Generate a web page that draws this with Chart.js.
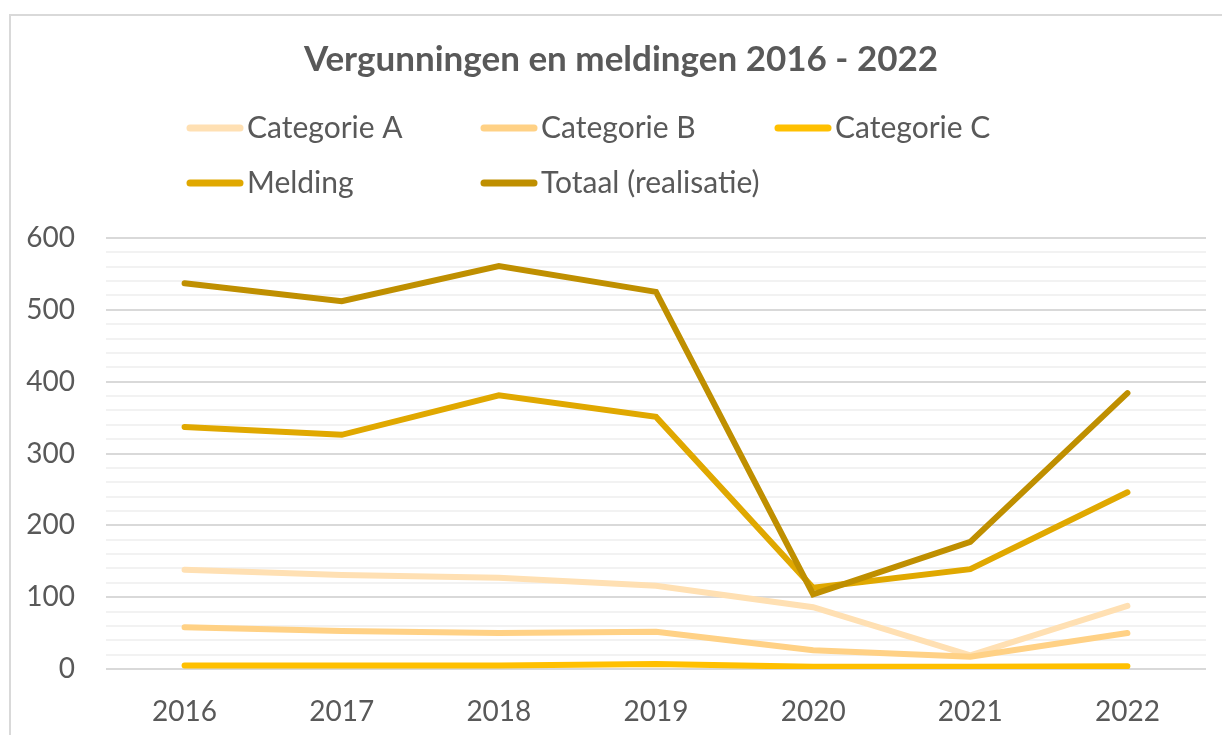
<!DOCTYPE html>
<html><head><meta charset="utf-8">
<script src="https://cdn.jsdelivr.net/npm/chart.js@4/dist/chart.umd.min.js"></script>
<style>
html,body{margin:0;padding:0;background:#fff;overflow:hidden;width:1222px;height:735px}
#frame{position:absolute;left:9px;top:14px;width:1300px;height:800px;border-left:2px solid #d9d9d9;border-top:2px solid #d9d9d9;box-sizing:border-box}
#wrap{position:absolute;left:0;top:0;width:1222px;height:735px}
</style></head><body>
<div id="frame"></div>
<div id="wrap"><canvas id="c" width="1222" height="735"></canvas></div>
<script>
const years = ['2016','2017','2018','2019','2020','2021','2022'];
const seriesNames = ['Categorie A','Categorie B','Categorie C','Melding','Totaal (realisatie)'];
const categorieA = [138,131,127,116,86,19,88];
const categorieB = [58,53,50,52,26,17,50];
const categorieC = [5,5,5,7,3,3,4];
const melding = [337,326,381,351,113,139,246];
const totaal = [537,512,561,525,104,177,384];
const yTickLabels = [0,100,200,300,400,500,600];
const seriesColors = ['#FFE0B3','#FFD185','#FFC000','#E0A800','#BF8F00'];

const FONT = 'Lato, "Open Sans", sans-serif';
const TEXT = '#595959';

const gridLegend = {
  id: 'gridLegend',
  afterLayout(chart, args, opts) {
    if (chart.titleBlock) chart.titleBlock.left += opts.titleShift;
  },
  afterDraw(chart, args, opts) {
    const ctx = chart.ctx;
    chart.data.datasets.forEach((ds, i) => {
      const col = i % opts.columns, row = Math.floor(i / opts.columns);
      const x = opts.left + col * opts.colWidth;
      const y = opts.top + row * opts.rowHeight;
      ctx.save();
      ctx.strokeStyle = ds.borderColor;
      ctx.lineWidth = opts.lineWidth;
      ctx.lineCap = 'round';
      ctx.beginPath();
      ctx.moveTo(x + 3, y);
      ctx.lineTo(x + opts.swatch - 3, y);
      ctx.stroke();
      ctx.fillStyle = opts.color;
      ctx.font = opts.font;
      ctx.textBaseline = 'middle';
      ctx.textAlign = 'left';
      ctx.fillText(ds.label, x + opts.swatch + 4, y);
      ctx.restore();
    });
  }
};

const allSeries = [categorieA, categorieB, categorieC, melding, totaal];
const datasets = allSeries.map((d, i) => ({
  label: seriesNames[i],
  data: d,
  borderColor: seriesColors[i],
  backgroundColor: seriesColors[i],
  borderWidth: 6,
  borderCapStyle: 'round',
  borderJoinStyle: 'miter',
  pointRadius: 0,
  pointHoverRadius: 0,
  tension: 0,
  fill: false,
  order: allSeries.length - i
}));

new Chart(document.getElementById('c'), {
  type: 'line',
  data: { labels: years, datasets },
  plugins: [gridLegend],
  options: {
    responsive: false,
    animation: false,
    layout: { padding: { left: 0, right: 16, bottom: 0, top: 0 } },
    plugins: {
      legend: { display: false },
      tooltip: { enabled: false },
      title: {
        display: true,
        text: 'Vergunningen en meldingen 2016 - 2022',
        color: TEXT,
        font: { family: FONT, size: 35, weight: 'bold' },
        padding: { top: 39, bottom: 157 }
      },
      gridLegend: {
        columns: 3, left: 187, top: 128, colWidth: 294, rowHeight: 55,
        swatch: 56, lineWidth: 7, color: TEXT, font: '30px ' + FONT,
        titleShift: 36
      }
    },
    scales: {
      x: {
        offset: true,
        grid: { display: false, drawTicks: false },
        border: { display: false },
        ticks: { color: TEXT, font: { family: FONT, size: 28 }, padding: 26, maxRotation: 0 },
        afterFit: s => { s.height = 66; }
      },
      y: {
        min: 0, max: 600,
        border: { display: false },
        grid: {
          drawTicks: false,
          lineWidth: 2,
          color: c => (c.tick && c.tick.value % 100 === 0) ? '#d9d9d9' : '#f2f2f2'
        },
        ticks: {
          stepSize: 20,
          autoSkip: false,
          padding: 31,
          color: TEXT,
          font: { family: FONT, size: 28 },
          callback: v => yTickLabels.includes(v) ? String(v) : ''
        },
        afterFit: s => { s.width = 106; }
      }
    }
  }
});
</script>
</body></html>
